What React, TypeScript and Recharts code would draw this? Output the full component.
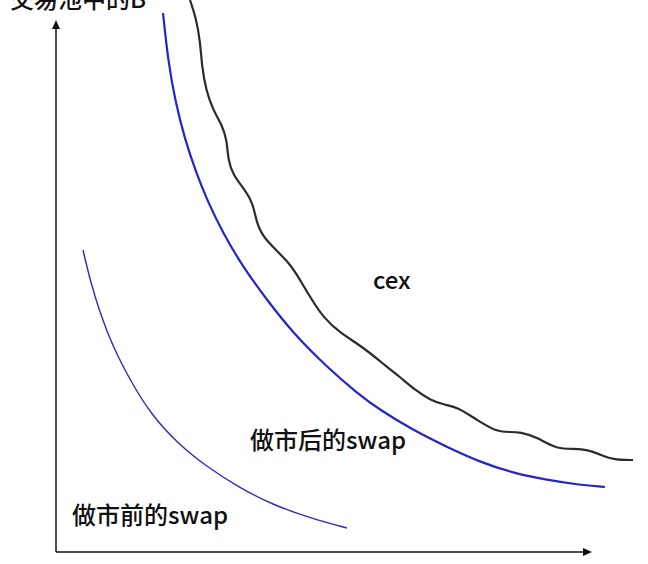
import React from 'react';
import { LineChart, Line, XAxis, YAxis, ReferenceLine, ReferenceDot } from 'recharts';

// Curves (x: token A in pool, y: token B in pool; axis length = 100)
const swapBefore = [
  { x: 5.06, y: 54.71 }, { x: 6.37, y: 49.28 }, { x: 8.24, y: 43.3 }, { x: 10.67, y: 37.14 },
  { x: 13.86, y: 31.16 }, { x: 17.6, y: 25.18 }, { x: 22.66, y: 19.75 }, { x: 28.28, y: 15.4 },
  { x: 34.46, y: 11.59 }, { x: 40.64, y: 8.51 }, { x: 48.13, y: 5.98 }, { x: 54.49, y: 4.35 },
];

const swapAfter = [
  { x: 20.04, y: 97.64 }, { x: 20.97, y: 89.13 }, { x: 22.28, y: 81.88 }, { x: 24.16, y: 74.64 },
  { x: 26.22, y: 68.84 }, { x: 28.28, y: 63.77 }, { x: 31.27, y: 57.79 }, { x: 35.02, y: 51.63 },
  { x: 39.51, y: 45.65 }, { x: 44.38, y: 39.67 }, { x: 50.75, y: 33.51 }, { x: 56.37, y: 28.8 },
  { x: 60.67, y: 25.72 }, { x: 66.85, y: 22.1 }, { x: 73.22, y: 19.02 }, { x: 79.4, y: 16.3 },
  { x: 85.58, y: 14.31 }, { x: 91.95, y: 13.04 }, { x: 98.13, y: 12.14 }, { x: 102.81, y: 11.78 },
];

const cex = [
  { x: 25.09, y: 100 }, { x: 26.22, y: 96.74 }, { x: 26.97, y: 92.75 }, { x: 27.34, y: 87.86 },
  { x: 28.09, y: 83.7 }, { x: 29.4, y: 80.07 }, { x: 31.09, y: 77.36 }, { x: 32.02, y: 74.64 },
  { x: 32.21, y: 71.01 }, { x: 33.15, y: 68.3 }, { x: 35.39, y: 65.58 }, { x: 36.89, y: 63.22 },
  { x: 37.64, y: 59.24 }, { x: 39.14, y: 56.52 }, { x: 43.82, y: 52.36 }, { x: 45.69, y: 49.28 },
  { x: 47.94, y: 45.65 }, { x: 50.0, y: 42.57 }, { x: 53.18, y: 39.67 }, { x: 57.49, y: 37.14 },
  { x: 61.99, y: 33.51 }, { x: 64.42, y: 31.7 }, { x: 67.23, y: 29.35 }, { x: 70.04, y: 27.54 },
  { x: 72.85, y: 26.63 }, { x: 75.09, y: 26.27 }, { x: 78.84, y: 23.91 }, { x: 82.58, y: 21.74 },
  { x: 85.02, y: 21.74 }, { x: 86.89, y: 21.74 }, { x: 90.07, y: 20.83 }, { x: 93.82, y: 18.48 },
  { x: 98.13, y: 18.84 }, { x: 101.31, y: 17.93 }, { x: 104.31, y: 16.67 }, { x: 108.05, y: 16.67 },
];

const annotations = [
  { x: 59.36, y: 47.64, text: 'cex' },
  { x: 36.33, y: 18.66, text: '做市后的swap' },
  { x: 3.0, y: 5.07, text: '做市前的swap' },
  { x: -8.61, y: 98.55, text: '交易池中的B' },
];

const AXIS_END = 100;
const Y_AXIS_END = 96;

const FONT = '"Noto Sans CJK SC", "Noto Sans", sans-serif';

const TextShape = (text: string) => (props: any) => (
  <text x={props.cx} y={props.cy} fontFamily={FONT} fontSize={24} fontWeight={500} fill="#111" textAnchor="start">
    {text}
  </text>
);

const ArrowUp = (props: any) => (
  <path d={`M${props.cx},${props.cy - 2} L${props.cx - 4},${props.cy + 7} L${props.cx + 4},${props.cy + 7} Z`} fill="#111" />
);
const ArrowRight = (props: any) => (
  <path d={`M${props.cx + 2},${props.cy} L${props.cx - 7},${props.cy - 4} L${props.cx - 7},${props.cy + 4} Z`} fill="#111" />
);

export default function App() {
  return (
    <div style={{ position: 'absolute', left: 0, top: 0, background: '#fff' }}>
      <LineChart width={648} height={564} margin={{ top: 0, right: 4.6, bottom: 12, left: 56 }}>
        <XAxis type="number" dataKey="x" domain={[0, 110]} hide allowDataOverflow />
        <YAxis type="number" dataKey="y" domain={[0, 100]} hide allowDataOverflow />
        <ReferenceLine segment={[{ x: 0, y: 0 }, { x: 0, y: Y_AXIS_END }]} stroke="#111" strokeWidth={1.5} ifOverflow="visible" />
        <ReferenceLine segment={[{ x: 0, y: 0 }, { x: AXIS_END, y: 0 }]} stroke="#111" strokeWidth={1.5} ifOverflow="visible" />
        <ReferenceDot x={0} y={Y_AXIS_END} r={0} shape={ArrowUp} ifOverflow="visible" />
        <ReferenceDot x={AXIS_END} y={0} r={0} shape={ArrowRight} ifOverflow="visible" />
        <Line data={swapBefore} dataKey="y" type="basis" stroke="#2c2cc0" strokeWidth={1.4} dot={false} isAnimationActive={false} />
        <Line data={swapAfter} dataKey="y" type="basis" stroke="#2424d0" strokeWidth={2.2} dot={false} isAnimationActive={false} />
        <Line data={cex} dataKey="y" type="basis" stroke="#2b2b2b" strokeWidth={2.2} dot={false} isAnimationActive={false} />
        {annotations.map((a) => (
          <ReferenceDot key={a.text} x={a.x} y={a.y} r={0} shape={TextShape(a.text)} ifOverflow="visible" />
        ))}
      </LineChart>
    </div>
  );
}
